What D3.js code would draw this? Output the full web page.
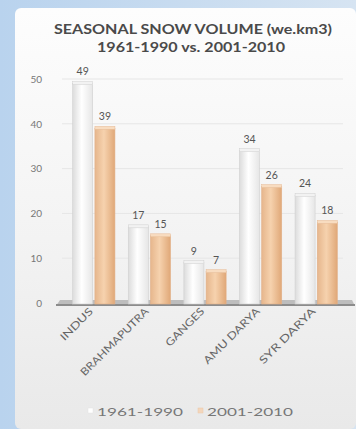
<!DOCTYPE html>
<html><head><meta charset="utf-8">
<script src="https://cdn.jsdelivr.net/npm/d3@7"></script>
<style>html,body{margin:0;padding:0;background:#c9dcef;}svg{display:block;}</style>
</head><body>
<script>
const categories = ["INDUS","BRAHMAPUTRA","GANGES","AMU DARYA","SYR DARYA"];
const seriesNames = ["1961-1990","2001-2010"];
const values1961 = [49,17,9,34,24];
const values2001 = [39,15,7,26,18];
const yTicks = [0,10,20,30,40,50];
const titleLines = ["SEASONAL SNOW VOLUME (we.km3)","1961-1990 vs. 2001-2010"];

const W=356,H=429;
const svg=d3.select("body").append("svg").attr("width",W).attr("height",H);
const defs=svg.append("defs");

const bg=defs.append("linearGradient").attr("id","bg").attr("x1",0).attr("x2",1).attr("y1",0).attr("y2",0);
bg.append("stop").attr("offset",0).attr("stop-color","#b9d3ee");
bg.append("stop").attr("offset",1).attr("stop-color","#d6e4f2");
svg.append("rect").attr("width",W).attr("height",H).attr("fill","url(#bg)");
const pg=defs.append("linearGradient").attr("id","pg").attr("x1",0).attr("x2",0).attr("y1",0).attr("y2",1);
pg.append("stop").attr("offset",0).attr("stop-color","#fdfdfd");
pg.append("stop").attr("offset",0.5).attr("stop-color","#f4f4f4");
pg.append("stop").attr("offset",1).attr("stop-color","#e9e9e9");
svg.append("rect").attr("x",15).attr("y",8).attr("width",W-15).attr("height",H-8).attr("rx",6).attr("fill","url(#pg)");

function barGrad(id,c0,c1,c2){
  const g=defs.append("linearGradient").attr("id",id).attr("x1",0).attr("x2",1).attr("y1",0).attr("y2",0);
  g.append("stop").attr("offset",0).attr("stop-color",c0);
  g.append("stop").attr("offset",0.45).attr("stop-color",c1);
  g.append("stop").attr("offset",1).attr("stop-color",c2);
}
barGrad("g0","#dcdcdc","#ffffff","#e6e6e6");
barGrad("g1","#e6b68c","#f6d2ae","#e0a878");

const font="Lato, 'Open Sans', sans-serif";
svg.append("text").attr("x",193).attr("y",34).attr("text-anchor","middle")
  .attr("font-family",font).attr("font-weight","bold").attr("font-size",13)
  .attr("fill","#4a4a4a").attr("textLength",278).attr("lengthAdjust","spacingAndGlyphs").text(titleLines[0]);
svg.append("text").attr("x",191).attr("y",52).attr("text-anchor","middle")
  .attr("font-family",font).attr("font-weight","bold").attr("font-size",13)
  .attr("fill","#4a4a4a").attr("textLength",188).attr("lengthAdjust","spacingAndGlyphs").text(titleLines[1]);

const y=d3.scaleLinear().domain([0,50]).range([303,79]);
const x0=d3.scaleBand().domain(categories).range([66,344]).paddingInner(0.24).paddingOuter(0.12);
const x1=d3.scaleBand().domain(seriesNames).range([0,x0.bandwidth()]).paddingInner(0.1);

svg.append("g").selectAll("line").data(yTicks.filter(d=>d>0)).join("line")
  .attr("x1",62).attr("x2",343).attr("y1",d=>y(d)).attr("y2",d=>y(d))
  .attr("stroke","#e6e6e6").attr("stroke-width",1);

const ya=svg.append("g").attr("transform","translate(42,0)")
  .call(d3.axisLeft(y).tickValues(yTicks).tickSize(0).tickPadding(0));
ya.select(".domain").remove();
ya.selectAll("text").attr("font-family",font).attr("font-size",10).attr("fill","#777");

svg.append("path").attr("d",`M60,300 L352,300 L355,306 L56,306 Z`).attr("fill","#bdbdbd");
svg.append("line").attr("x1",56).attr("x2",355).attr("y1",305).attr("y2",305).attr("stroke","#8c8c8c").attr("stroke-width",2);

const data=categories.map((c,i)=>({c,vals:[{s:seriesNames[0],v:values1961[i],k:0},{s:seriesNames[1],v:values2001[i],k:1}]}));
const grp=svg.append("g").selectAll("g").data(data).join("g").attr("transform",d=>`translate(${x0(d.c)},0)`);
const bars=grp.selectAll("g").data(d=>d.vals).join("g");
bars.append("rect").attr("x",d=>x1(d.s)).attr("y",d=>y(d.v)).attr("width",x1.bandwidth())
  .attr("height",d=>y(0)-y(d.v)+1).attr("fill",d=>`url(#g${d.k})`)
  .attr("stroke",d=>d.k?"#e2b088":"#d0d0d0").attr("stroke-width",0.6);
bars.append("rect").attr("x",d=>x1(d.s)).attr("y",d=>y(d.v)-2).attr("width",x1.bandwidth())
  .attr("height",3).attr("fill",d=>d.k?"#f8dcc0":"#f2f2f2").attr("stroke",d=>d.k?"#e6bc98":"#cfcfcf").attr("stroke-width",0.5);
bars.append("text").attr("x",d=>x1(d.s)+x1.bandwidth()/2).attr("y",d=>y(d.v)-8)
  .attr("text-anchor","middle").attr("font-family",font).attr("font-size",10.5).attr("fill","#555").text(d=>d.v);

svg.append("g").selectAll("text").data(categories).join("text")
  .attr("transform",d=>`translate(${x0(d)+x0.bandwidth()/2},312) rotate(-45)`)
  .attr("text-anchor","end").attr("font-family",font).attr("font-size",10.5).attr("fill","#666")
  .attr("textLength",d=>d.length*8.3).attr("lengthAdjust","spacingAndGlyphs")
  .text(d=>d);

const legX=[92,202];
const leg=svg.append("g").selectAll("g").data(seriesNames).join("g").attr("transform",(d,i)=>`translate(${legX[i]},412)`);
leg.append("rect").attr("x",-4).attr("y",-4).attr("width",5).attr("height",5)
  .attr("fill",(d,i)=>i?"#f3d6bc":"#ffffff").attr("stroke",(d,i)=>i?"#ecc8a8":"#e4e4e4").attr("stroke-width",0.5);
leg.append("text").attr("x",5).attr("y",4).attr("font-family",font).attr("font-size",11).attr("fill","#777")
  .attr("textLength",86).attr("lengthAdjust","spacingAndGlyphs").text(d=>d);
</script>
</body></html>
